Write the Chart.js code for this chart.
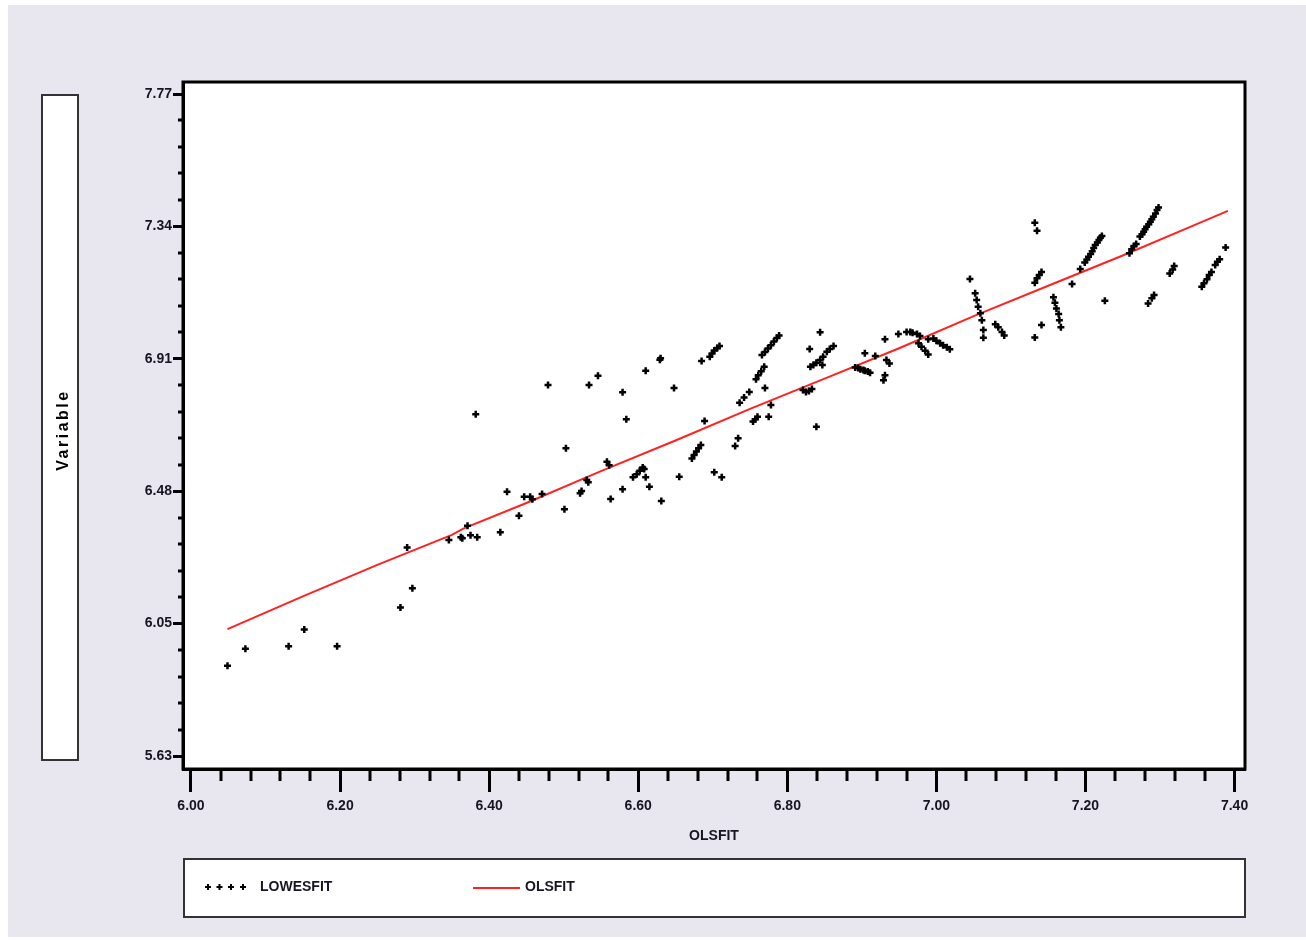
<!DOCTYPE html>
<html>
<head>
<meta charset="utf-8">
<script src="https://cdn.jsdelivr.net/npm/chart.js@4.4.0/dist/chart.umd.min.js"></script>
<style>
  html, body { margin: 0; padding: 0; background: #ffffff; }
  canvas { display: block; }
</style>
</head>
<body>
<canvas id="c" width="1306" height="940" style="width:1306px;height:940px"></canvas>
<script>
// ---- data ----
const lowesX = [
  6.049, 6.073, 6.131, 6.152, 6.196, 6.281, 6.297, 6.290, 6.382, 6.479,
  6.346, 6.362, 6.364, 6.371, 6.375, 6.384, 6.415, 6.424, 6.440, 6.447,
  6.455, 6.458, 6.471, 6.534, 6.546, 6.579, 6.584, 6.610, 6.630, 6.629,
  6.648, 6.685, 6.696, 6.699, 6.702, 6.706, 6.709, 6.766, 6.770, 6.774,
  6.778, 6.782, 6.786, 6.789, 6.758, 6.761, 6.765, 6.769, 6.736, 6.742,
  6.749, 6.770, 6.778, 6.775, 6.754, 6.757, 6.760, 6.689, 6.730, 6.734,
  6.672, 6.675, 6.678, 6.681, 6.684, 6.702, 6.712, 6.655, 6.631, 6.615,
  6.610, 6.593, 6.598, 6.602, 6.606, 6.608, 6.579, 6.563, 6.558, 6.561,
  6.531, 6.533, 6.522, 6.524, 6.503, 6.501, 6.830, 6.844, 6.831, 6.835,
  6.839, 6.844, 6.848, 6.853, 6.857, 6.862, 6.847, 6.821, 6.825, 6.829,
  6.833, 6.839, 6.904, 6.891, 6.895, 6.898, 6.902, 6.904, 6.908, 6.911,
  6.918, 6.929, 6.931, 6.931, 6.933, 6.937, 6.949, 6.960, 6.965, 6.968,
  6.974, 6.978, 6.976, 6.980, 6.985, 6.989, 6.989, 6.996, 7.000, 7.005,
  7.009, 7.014, 7.018, 7.045, 7.052, 7.054, 7.056, 7.059, 7.061, 7.063,
  7.063, 7.079, 7.083, 7.088, 7.091, 7.132, 7.135, 7.138, 7.141, 7.132,
  7.135, 7.141, 7.132, 7.157, 7.159, 7.161, 7.164, 7.165, 7.167, 7.182,
  7.193, 7.199, 7.202, 7.204, 7.207, 7.209, 7.211, 7.213, 7.216, 7.218,
  7.220, 7.222, 7.226, 7.259, 7.262, 7.265, 7.268, 7.273, 7.276, 7.278,
  7.280, 7.282, 7.285, 7.287, 7.289, 7.291, 7.294, 7.296, 7.298, 7.284,
  7.289, 7.292, 7.313, 7.317, 7.319, 7.356, 7.359, 7.363, 7.366, 7.369,
  7.374, 7.377, 7.380, 7.388
];
const lowesY = [
  5.922, 5.977, 5.985, 6.039, 5.985, 6.110, 6.172, 6.304, 6.735, 6.829,
  6.328, 6.337, 6.334, 6.374, 6.344, 6.337, 6.353, 6.484, 6.407, 6.468,
  6.468, 6.460, 6.477, 6.829, 6.859, 6.806, 6.719, 6.875, 6.916, 6.911,
  6.820, 6.907, 6.921, 6.931, 6.941, 6.949, 6.955, 6.926, 6.936, 6.947,
  6.958, 6.970, 6.981, 6.989, 6.848, 6.861, 6.874, 6.888, 6.772, 6.789,
  6.807, 6.820, 6.765, 6.727, 6.711, 6.719, 6.727, 6.713, 6.632, 6.657,
  6.592, 6.603, 6.614, 6.625, 6.635, 6.547, 6.531, 6.533, 6.454, 6.500,
  6.531, 6.531, 6.541, 6.552, 6.563, 6.558, 6.492, 6.461, 6.581, 6.570,
  6.522, 6.515, 6.479, 6.487, 6.625, 6.428, 6.946, 7.000, 6.888, 6.894,
  6.901, 6.910, 6.921, 6.937, 6.946, 6.955, 6.894, 6.813, 6.807, 6.810,
  6.816, 6.694, 6.932, 6.886, 6.884, 6.880, 6.878, 6.875, 6.873, 6.869,
  6.923, 6.845, 6.861, 6.977, 6.910, 6.899, 6.994, 7.001, 7.001, 6.998,
  6.994, 6.988, 6.964, 6.953, 6.940, 6.928, 6.977, 6.980, 6.972, 6.964,
  6.958, 6.951, 6.945, 7.172, 7.126, 7.104, 7.082, 7.061, 7.039, 7.007,
  6.982, 7.026, 7.016, 7.001, 6.989, 7.160, 7.174, 7.185, 7.195, 7.354,
  7.328, 7.023, 6.983, 7.113, 7.095, 7.077, 7.059, 7.039, 7.016, 7.156,
  7.204, 7.225, 7.235, 7.244, 7.253, 7.262, 7.272, 7.282, 7.290, 7.298,
  7.305, 7.311, 7.102, 7.255, 7.268, 7.279, 7.285, 7.309, 7.317, 7.325,
  7.333, 7.341, 7.349, 7.357, 7.365, 7.373, 7.384, 7.395, 7.403, 7.093,
  7.110, 7.120, 7.190, 7.203, 7.214, 7.147, 7.158, 7.171, 7.185, 7.195,
  7.217, 7.228, 7.236, 7.274
];
const olsX = [6.049, 6.150, 6.250, 6.350, 6.366, 6.450, 6.550, 6.650, 6.750, 6.850, 6.950, 7.050, 7.150, 7.250, 7.350, 7.391];
const olsY = [6.040, 6.146, 6.248, 6.345, 6.366, 6.448, 6.551, 6.650, 6.752, 6.850, 6.948, 7.052, 7.150, 7.248, 7.350, 7.392];

const xTickValues = [6.00, 6.20, 6.40, 6.60, 6.80, 7.00, 7.20, 7.40];
const xTickLabels = ['6.00', '6.20', '6.40', '6.60', '6.80', '7.00', '7.20', '7.40'];
const yTickValues = [5.63, 6.058, 6.486, 6.914, 7.342, 7.77];
const yTickLabels = ['5.63', '6.05', '6.48', '6.91', '7.34', '7.77'];

const seriesNames = ['LOWESFIT', 'OLSFIT'];
const yBoxLabel = 'Variable';

// ---- styles ----
const BG = '#e8e6ee';
const TXT = '#161622';
const FONT_FAMILY = "'Liberation Sans', Arial, sans-serif";
const tickFont = { family: FONT_FAMILY, size: 14, weight: 'bold' };

function drawPlus(c, x, y, r) {
  c.beginPath();
  c.moveTo(x - r, y); c.lineTo(x + r, y);
  c.moveTo(x, y - r); c.lineTo(x, y + r);
  c.stroke();
}

const decor = {
  id: 'decor',
  beforeDraw(chart) {
    const c = chart.ctx, a = chart.chartArea;
    c.save();
    c.fillStyle = '#ffffff';
    c.fillRect(0, 0, chart.width, chart.height);
    c.fillStyle = BG;
    c.fillRect(8, 5, chart.width - 8, chart.height - 8);
    c.fillStyle = '#ffffff';
    c.fillRect(a.left, a.top, a.right - a.left, a.bottom - a.top);
    // left label box
    c.fillRect(42, 95, 36, 665);
    c.strokeStyle = '#333';
    c.lineWidth = 2;
    c.strokeRect(42, 95, 36, 665);
    c.translate(64, 430);
    c.rotate(-Math.PI / 2);
    c.fillStyle = '#000';
    c.font = "bold 16px 'Liberation Sans', Arial, sans-serif";
    try { c.letterSpacing = '2.5px'; } catch (e) {}
    c.textAlign = 'center';
    c.textBaseline = 'middle';
    c.fillText(yBoxLabel, 0, 0);
    c.restore();
  },
  afterDraw(chart) {
    const c = chart.ctx, a = chart.chartArea;
    const xs = chart.scales.x, ys = chart.scales.y;
    c.save();
    // frame
    c.strokeStyle = '#000';
    c.lineWidth = 3;
    c.strokeRect(a.left, a.top, a.right - a.left, a.bottom - a.top);
    // minor ticks
    c.lineWidth = 3;
    c.beginPath();
    for (let i = 0; i < xTickValues.length - 1; i++) {
      const step = (xTickValues[i + 1] - xTickValues[i]) / 5;
      for (let k = 1; k < 5; k++) {
        const px = Math.round(xs.getPixelForValue(xTickValues[i] + k * step));
        c.moveTo(px, a.bottom); c.lineTo(px, a.bottom + 12);
      }
    }
    for (let i = 0; i < yTickValues.length - 1; i++) {
      const step = (yTickValues[i + 1] - yTickValues[i]) / 5;
      for (let k = 1; k < 5; k++) {
        const py = Math.round(ys.getPixelForValue(yTickValues[i] + k * step));
        c.moveTo(a.left, py); c.lineTo(a.left - 5, py);
      }
    }
    c.stroke();
    // legend box
    c.fillStyle = '#fff';
    c.fillRect(184, 859, 1061, 58);
    c.strokeStyle = '#333';
    c.lineWidth = 2;
    c.strokeRect(184, 859, 1061, 58);
    // legend entry 1: plus markers
    c.strokeStyle = '#000';
    c.lineWidth = 2;
    [208, 219.5, 231, 243].forEach(x => drawPlus(c, x, 887, 3));
    c.fillStyle = TXT;
    c.font = "bold 14px " + FONT_FAMILY;
    c.textAlign = 'left';
    c.textBaseline = 'middle';
    c.fillText(seriesNames[0], 260, 887);
    // legend entry 2: red line
    c.strokeStyle = '#ff2222';
    c.lineWidth = 2;
    c.beginPath();
    c.moveTo(473, 888); c.lineTo(520, 888);
    c.stroke();
    c.fillText(seriesNames[1], 525, 887);
    c.restore();
  }
};

const ctx = document.getElementById('c').getContext('2d');
new Chart(ctx, {
  type: 'scatter',
  data: {
    datasets: [
      {
        label: seriesNames[0],
        data: lowesX.map((x, i) => ({ x: x, y: lowesY[i] })),
        pointStyle: 'cross',
        pointRadius: 3.5,
        pointBorderWidth: 2.5,
        borderColor: '#000',
        backgroundColor: '#000',
        showLine: false
      },
      {
        label: seriesNames[1],
        data: olsX.map((x, i) => ({ x: x, y: olsY[i] })),
        showLine: true,
        borderColor: '#ff2222',
        borderWidth: 2,
        pointRadius: 0,
        fill: false,
        tension: 0
      }
    ]
  },
  options: {
    responsive: false,
    animation: false,
    devicePixelRatio: 1,
    layout: { padding: { top: 82, right: 61, left: 0, bottom: 95 } },
    plugins: { legend: { display: false }, tooltip: { enabled: false } },
    scales: {
      x: {
        type: 'linear',
        min: 5.9893,
        max: 7.414,
        afterBuildTicks: s => { s.ticks = xTickValues.map(v => ({ value: v })); },
        afterFit: s => { s.height = 76; },
        ticks: {
          autoSkip: false, maxRotation: 0, minRotation: 0,
          padding: 6,
          font: tickFont, color: TXT,
          callback: (v, i) => xTickLabels[i]
        },
        grid: { drawOnChartArea: false, drawTicks: true, tickLength: 23, tickWidth: 3, tickColor: '#000' },
        border: { display: true, width: 3, color: '#000' },
        title: { display: true, text: seriesNames[1], font: tickFont, color: TXT, padding: { top: 6, bottom: 0 } }
      },
      y: {
        type: 'linear',
        min: 5.588,
        max: 7.8088,
        afterBuildTicks: s => { s.ticks = yTickValues.map(v => ({ value: v })); },
        afterFit: s => { s.width = 183; },
        ticks: {
          autoSkip: false,
          padding: 1,
          font: tickFont, color: TXT,
          callback: (v, i) => yTickLabels[i]
        },
        grid: { drawOnChartArea: false, drawTicks: true, tickLength: 10, tickWidth: 3, tickColor: '#000' },
        border: { display: true, width: 3, color: '#000' }
      }
    }
  },
  plugins: [decor]
});
</script>
</body>
</html>
